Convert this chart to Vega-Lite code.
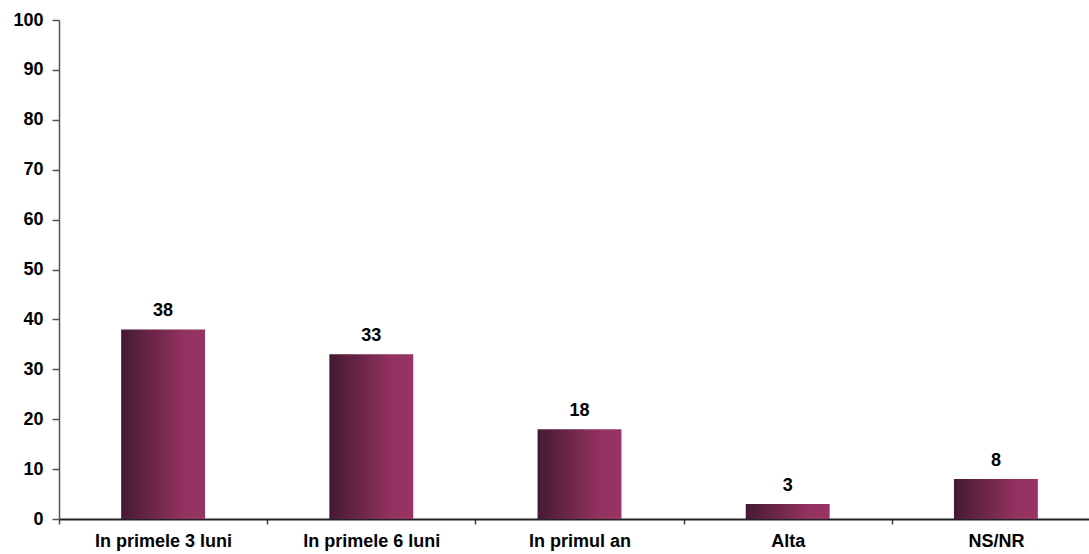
{
  "$schema": "https://vega.github.io/schema/vega-lite/v6.json",
  "width": 1041,
  "height": 499,
  "autosize": {"type": "none"},
  "padding": {"left": 59, "top": 20, "right": 0, "bottom": 35},
  "background": "white",
  "config": {
    "view": {"stroke": null},
    "font": "Liberation Sans"
  },
  "data": {
    "values": [
      {"categorie": "In primele 3 luni", "valoare": 38},
      {"categorie": "In primele 6 luni", "valoare": 33},
      {"categorie": "In primul an", "valoare": 18},
      {"categorie": "Alta", "valoare": 3},
      {"categorie": "NS/NR", "valoare": 8}
    ]
  },
  "encoding": {
    "x": {
      "field": "categorie",
      "type": "nominal",
      "sort": null,
      "scale": {"paddingInner": 0, "paddingOuter": 0},
      "axis": {
        "title": null,
        "labelAngle": 0,
        "labelFont": "Liberation Sans",
        "labelFontSize": 18,
        "labelFontWeight": "bold",
        "labelColor": "black",
        "labelPadding": 8,
        "ticks": true,
        "tickBand": "extent",
        "tickSize": 5,
        "tickWidth": 1.5,
        "tickColor": "#444444",
        "domainColor": "#222222",
        "domainWidth": 2
      }
    },
    "y": {
      "field": "valoare",
      "type": "quantitative",
      "scale": {"domain": [0, 100]},
      "axis": {
        "title": null,
        "values": [0, 10, 20, 30, 40, 50, 60, 70, 80, 90, 100],
        "grid": false,
        "labelFont": "Liberation Sans",
        "labelFontSize": 18,
        "labelFontWeight": "bold",
        "labelColor": "black",
        "labelPadding": 9,
        "tickSize": 7,
        "tickWidth": 1.5,
        "tickColor": "#555555",
        "domainColor": "#555555",
        "domainWidth": 1.5
      }
    }
  },
  "layer": [
    {
      "mark": {
        "type": "bar",
        "width": {"band": 0.403},
        "color": {
          "x1": 0, "y1": 0, "x2": 1, "y2": 0,
          "gradient": "linear",
          "stops": [
            {"offset": 0, "color": "#461931"},
            {"offset": 0.75, "color": "#933260"},
            {"offset": 1, "color": "#973464"}
          ]
        }
      }
    },
    {
      "mark": {
        "type": "text",
        "baseline": "alphabetic",
        "dy": -13,
        "fontSize": 18,
        "fontWeight": "bold",
        "color": "black",
        "font": "Liberation Sans"
      },
      "encoding": {"text": {"field": "valoare", "type": "quantitative"}}
    }
  ]
}
